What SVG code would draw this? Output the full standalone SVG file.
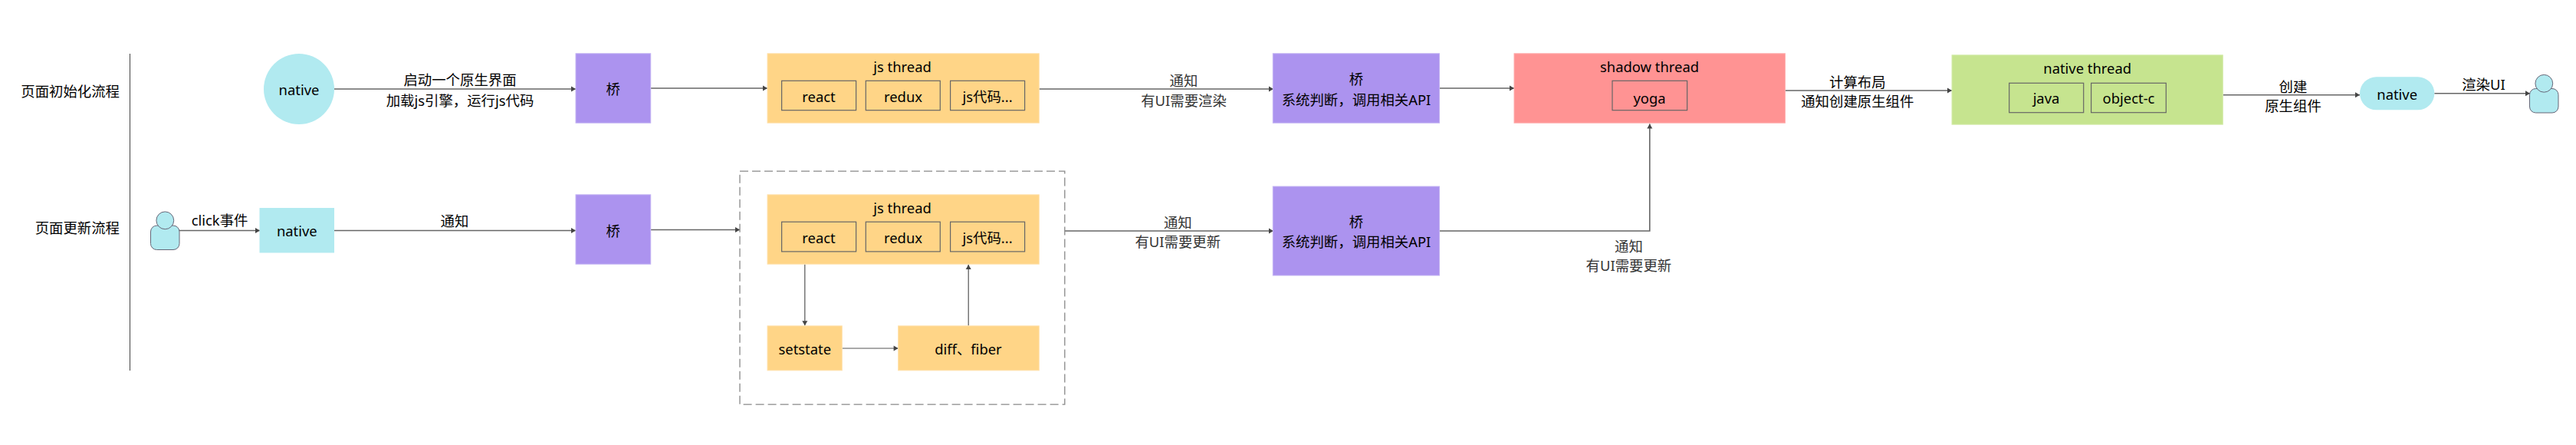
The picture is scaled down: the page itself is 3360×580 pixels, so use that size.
<svg xmlns="http://www.w3.org/2000/svg" width="3360" height="580" viewBox="0 0 3360 580">
<style>
text{font-family:"Noto Sans","Noto Sans CJK SC",sans-serif;font-size:18.4px;fill:#000;text-anchor:middle;dominant-baseline:central}
.g{fill:#333}
.r{text-anchor:end}
.bl{fill:#b1eaf0}.pu{fill:#ac93ef;stroke:#c4b3f3;stroke-width:1}.or{fill:#ffd587;stroke:#ffe2ad;stroke-width:1}.re{fill:#ff9393;stroke:#ffadad;stroke-width:1}.gr{fill:#c6e48f;stroke:#d4ebab;stroke-width:1}
.in{fill:none;stroke:#666;stroke-width:1.2}
.p{fill:#b1eaf0;stroke:#667;stroke-width:1}
.c{fill:none;stroke:#666;stroke-width:1.6;marker-end:url(#a)}
.t{fill:none;stroke:#555;stroke-width:1.2;marker-end:url(#a)}
.lb{fill:#fff}
</style>
<defs>
<marker id="a" markerUnits="userSpaceOnUse" markerWidth="8" markerHeight="10" refX="7" refY="5" orient="auto"><path d="M1 1.5L7 5L1 8.5z" fill="#444"/></marker>
<symbol id="u" overflow="visible"><rect class="p" x="0" y="18" width="37.5" height="31.5" rx="8"/><circle class="p" cx="18.8" cy="11.3" r="11.4"/></symbol>
</defs>
<g id="connectors">
<path d="M169.5 70V483" fill="none" stroke="#444" stroke-width="1"/>
<path class="c" d="M436 116H751"/>
<path class="c" d="M234 300.5H339"/>
<path class="c" d="M436 300.5H751"/>
<path class="c" d="M849 115H1001"/>
<path class="c" d="M1355 116H1661"/>
<path class="c" d="M849 299.5H965"/>
<path class="c" d="M1389 301H1661"/>
<path class="c" d="M1877.5 115H1975"/>
<path class="c" d="M1877.5 301H2151.8V161.5"/>
<path class="c" d="M2328.4 118H2546"/>
<path class="c" d="M2899.3 123.7H3078"/>
<path class="c" d="M3175.3 121.7H3300"/>
<path class="t" d="M1049.8 344.5V424.3"/>
<path class="t" d="M1098.6 454H1171.6"/>
<path class="t" d="M1263.2 424.5V345"/>
<rect class="lb" x="1488" y="117" width="113" height="26"/>
<rect class="lb" x="1480" y="302" width="113" height="26"/>
<text x="1544" y="104" class="g">通知</text>
<text x="1544" y="130" class="g">有UI需要渲染</text>
<text x="1536.3" y="289" class="g">通知</text>
<text x="1536.3" y="314.3" class="g">有UI需要更新</text>
<text x="2124.4" y="320.7" class="g">通知</text>
<text x="2124.4" y="345.7" class="g">有UI需要更新</text>
<text x="600" y="103">启动一个原生界面</text>
<text x="600" y="130.7">加载js引擎，运行js代码</text>
<text x="286.6" y="286.7">click事件</text>
<text x="593" y="287">通知</text>
<text x="2422.8" y="106.7">计算布局</text>
<text x="2422.8" y="131.3">通知创建原生组件</text>
<text x="2991" y="112.3">创建</text>
<text x="2991" y="137.3">原生组件</text>
<text x="3239.4" y="109.3">渲染UI</text>
</g>
<g id="label-init"><text class="r" x="156" y="118">页面初始化流程</text></g>
<g id="label-update"><text class="r" x="156" y="296.7">页面更新流程</text></g>
<g id="native-circle"><circle class="bl" cx="390" cy="116" r="46"/><text x="390" y="116">native</text></g>
<g id="user-left"><use href="#u" x="196.5" y="276"/></g>
<g id="native-rect"><rect class="bl" x="338.5" y="271" width="97.5" height="58.5"/><text x="387.3" y="300.5">native</text></g>
<g id="bridge-1"><rect class="pu" x="751" y="69.8" width="97.7" height="90.4"/><text x="799.8" y="115">桥</text></g>
<g id="bridge-2"><rect class="pu" x="751" y="253.8" width="97.7" height="90.4"/><text x="799.8" y="300">桥</text></g>
<g id="js-thread-1"><rect class="or" x="1001" y="69.8" width="354.3" height="90.4"/><text x="1177" y="86.7">js thread</text>
<rect class="in" x="1019.6" y="105.3" width="97" height="38.4"/><text x="1068" y="125">react</text>
<rect class="in" x="1129.3" y="105.3" width="97" height="38.4"/><text x="1178" y="125">redux</text>
<rect class="in" x="1239.6" y="105.3" width="97" height="38.4"/><text x="1288" y="125">js代码...</text></g>
<g id="dashed-group"><rect x="965" y="223.2" width="423.8" height="304" fill="none" stroke="#888" stroke-width="1.3" stroke-dasharray="11 5"/></g>
<g id="js-thread-2"><rect class="or" x="1001" y="253.8" width="354.3" height="90.4"/><text x="1177" y="270.5">js thread</text>
<rect class="in" x="1019.6" y="289.2" width="97" height="38.7"/><text x="1068" y="309">react</text>
<rect class="in" x="1129.3" y="289.2" width="97" height="38.7"/><text x="1178" y="309.5">redux</text>
<rect class="in" x="1239.6" y="289.2" width="97" height="38.7"/><text x="1288" y="309">js代码...</text></g>
<g id="setstate"><rect class="or" x="1001" y="424.8" width="97.3" height="58"/><text x="1049.8" y="454.5">setstate</text></g>
<g id="diff-fiber"><rect class="or" x="1171.6" y="424.8" width="183.7" height="58"/><text x="1263" y="454">diff、fiber</text></g>
<g id="bridge-api-1"><rect class="pu" x="1660.3" y="69.8" width="217.2" height="90.4"/><text x="1769" y="102.7">桥</text><text x="1769" y="129">系统判断，调用相关API</text></g>
<g id="bridge-api-2"><rect class="pu" x="1660.3" y="243" width="217.2" height="116"/><text x="1769" y="288.5">桥</text><text x="1769" y="314">系统判断，调用相关API</text></g>
<g id="shadow-thread"><rect class="re" x="1975" y="69.8" width="353.4" height="90.4"/><text x="2151.5" y="86.7">shadow thread</text>
<rect class="in" x="2103" y="105.3" width="97.6" height="38.4"/><text x="2151.5" y="127">yoga</text></g>
<g id="native-thread"><rect class="gr" x="2546" y="71.8" width="353.3" height="90.4"/><text x="2722.7" y="88.3">native thread</text>
<rect class="in" x="2620.7" y="108.3" width="97" height="38.4"/><text x="2669" y="127.7">java</text>
<rect class="in" x="2727.6" y="108.3" width="97.7" height="38.4"/><text x="2776.5" y="127.7">object-c</text></g>
<g id="native-pill"><rect class="bl" x="3078" y="100.3" width="97.3" height="43" rx="21.5"/><text x="3126.7" y="122.3">native</text></g>
<g id="user-right"><use href="#u" x="3299.5" y="97.5"/></g>
</svg>
